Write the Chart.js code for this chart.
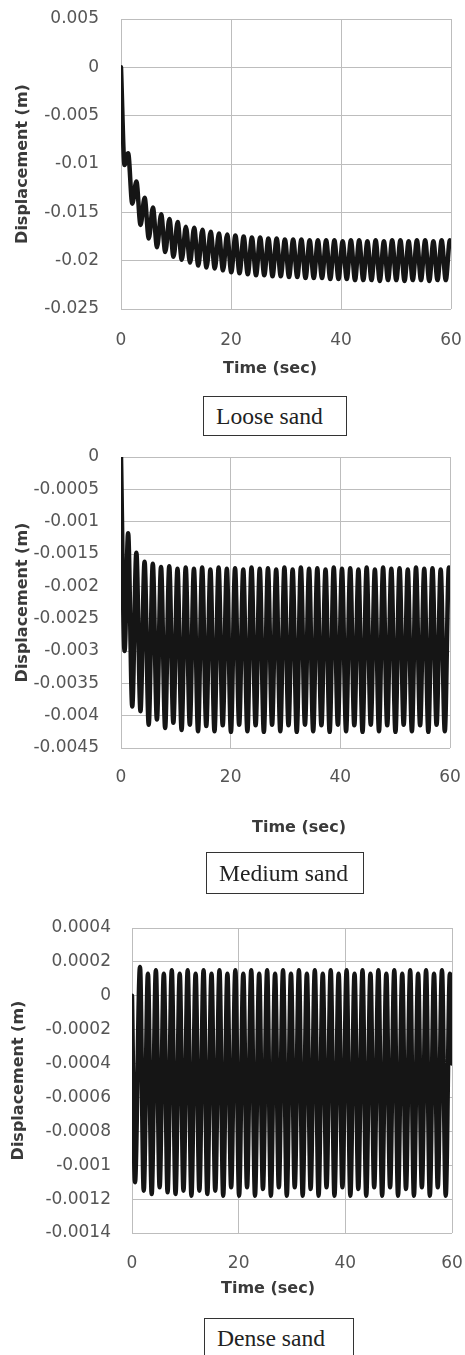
<!DOCTYPE html>
<html>
<head>
<meta charset="utf-8">
<script src="https://cdn.jsdelivr.net/npm/chart.js@4.4.0/dist/chart.umd.min.js"></script>
<style>
  body { margin: 0; width: 465px; height: 1355px; overflow: hidden; background: #fff; position: relative; }
  canvas { position: absolute; left: 0; }
  .tag { position: absolute; box-sizing: border-box; border: 1px solid #333; font-family: 'Liberation Serif', serif;
         font-size: 23.6px; color: #222; padding-left: 12px; white-space: nowrap; }
</style>
</head>
<body>
<canvas id="loose" width="465" height="390" style="top:0px"></canvas>
<canvas id="medium" width="465" height="400" style="top:440px"></canvas>
<canvas id="dense" width="465" height="415" style="top:890px"></canvas>
<div class="tag" style="left:203px;top:396px;width:144px;height:40px;line-height:38px">Loose sand</div>
<div class="tag" style="left:206px;top:852px;width:158px;height:42px;line-height:40px">Medium sand</div>
<div class="tag" style="left:204px;top:1318px;width:150px;height:40px;line-height:38px">Dense sand</div>
<script>
// time axis
const timeTicks = [0, 20, 40, 60]

// loose / medium sand: times of the extremes (sec)
const peakTimesA = [1.3, 2.8, 4.3, 5.8, 7.3, 8.8, 10.3, 11.8, 13.3, 14.8, 16.3, 17.8, 19.3, 20.8, 22.3, 23.8, 25.3, 26.8, 28.3, 29.8,
  31.3, 32.8, 34.3, 35.8, 37.3, 38.8, 40.3, 41.8, 43.3, 44.8, 46.3, 47.8, 49.3, 50.8, 52.3, 53.8, 55.3, 56.8, 58.3, 59.8]
const troughTimesA = [0.65, 2.05, 3.55, 5.05, 6.55, 8.05, 9.55, 11.05, 12.55, 14.05, 15.55, 17.05, 18.55, 20.05, 21.55, 23.05, 24.55, 26.05, 27.55, 29.05,
  30.55, 32.05, 33.55, 35.05, 36.55, 38.05, 39.55, 41.05, 42.55, 44.05, 45.55, 47.05, 48.55, 50.05, 51.55, 53.05, 54.55, 56.05, 57.55, 59.05]

// dense sand: times of the extremes (sec)
const peakTimesB = [1.5, 2.99, 4.48, 5.97, 7.46, 8.95, 10.44, 11.93, 13.42, 14.91, 16.4, 17.89, 19.38, 20.87, 22.36, 23.85, 25.34, 26.83, 28.32, 29.81,
  31.3, 32.79, 34.28, 35.77, 37.26, 38.75, 40.24, 41.73, 43.22, 44.71, 46.2, 47.69, 49.18, 50.67, 52.16, 53.65, 55.14, 56.63, 58.12, 59.61]
const troughTimesB = [0.56, 2.2, 3.69, 5.18, 6.67, 8.16, 9.65, 11.14, 12.63, 14.12, 15.61, 17.1, 18.59, 20.08, 21.57, 23.06, 24.55, 26.04, 27.53, 29.02,
  30.51, 32, 33.49, 34.98, 36.47, 37.96, 39.45, 40.94, 42.43, 43.92, 45.41, 46.9, 48.39, 49.88, 51.37, 52.86, 54.35, 55.84, 57.33, 58.82]

// Loose sand displacement (m)
const loosePeaks = [-0.0089, -0.0118, -0.0135, -0.0145, -0.0152, -0.0157, -0.0160, -0.0165, -0.0166, -0.0168,
  -0.0170, -0.0172, -0.0173, -0.0174, -0.0175, -0.0176, -0.0176, -0.0177, -0.0177, -0.0178,
  -0.0178, -0.0178, -0.0179, -0.0179, -0.0179, -0.0179, -0.0180, -0.0179, -0.0179, -0.0180,
  -0.0179, -0.0180, -0.0179, -0.0179, -0.0180, -0.0179, -0.0179, -0.0180, -0.0179, -0.0179]
const looseTroughs = [-0.0101, -0.0141, -0.0163, -0.0177, -0.0186, -0.0191, -0.0196, -0.0199, -0.0202, -0.0205,
  -0.0207, -0.0208, -0.0210, -0.0212, -0.0213, -0.0214, -0.0215, -0.0215, -0.0216, -0.0216,
  -0.0217, -0.0217, -0.0218, -0.0218, -0.0218, -0.0219, -0.0219, -0.0219, -0.0220, -0.0220,
  -0.0220, -0.0221, -0.0220, -0.0220, -0.0221, -0.0220, -0.0220, -0.0221, -0.0220, -0.0220]
const looseEnds = [[0, 0], [60, -0.0181]]
const looseYTicks = [0.005, 0, -0.005, -0.01, -0.015, -0.02, -0.025]

// Medium sand displacement (m)
const mediumPeaks = [-0.00118, -0.00148, -0.00162, -0.00165, -0.00170, -0.00169, -0.00173, -0.00171, -0.00173, -0.00171,
  -0.00174, -0.00171, -0.00173, -0.00172, -0.00174, -0.00171, -0.00173, -0.00172, -0.00174, -0.00171,
  -0.00174, -0.00171, -0.00173, -0.00172, -0.00174, -0.00171, -0.00173, -0.00172, -0.00174, -0.00171,
  -0.00174, -0.00171, -0.00173, -0.00172, -0.00174, -0.00171, -0.00173, -0.00172, -0.00174, -0.00171]
const mediumTroughs = [-0.00300, -0.00386, -0.00393, -0.00414, -0.00406, -0.00419, -0.00411, -0.00422, -0.00414, -0.00424,
  -0.00416, -0.00424, -0.00415, -0.00425, -0.00414, -0.00424, -0.00415, -0.00425, -0.00414, -0.00424,
  -0.00415, -0.00425, -0.00414, -0.00424, -0.00415, -0.00425, -0.00414, -0.00424, -0.00415, -0.00425,
  -0.00414, -0.00424, -0.00415, -0.00425, -0.00414, -0.00424, -0.00415, -0.00425, -0.00414, -0.00424]
const mediumEnds = [[0, 0], [60, -0.0021]]
const mediumYTicks = [0, -0.0005, -0.001, -0.0015, -0.002, -0.0025, -0.003, -0.0035, -0.004, -0.0045]

// Dense sand displacement (m)
const densePeaks = [0.00017, 0.00013, 0.00015, 0.00013, 0.00015, 0.00013, 0.00015, 0.00013, 0.00015, 0.00013,
  0.00015, 0.00013, 0.00015, 0.00013, 0.00015, 0.00013, 0.00015, 0.00013, 0.00015, 0.00013,
  0.00015, 0.00013, 0.00015, 0.00013, 0.00015, 0.00013, 0.00015, 0.00013, 0.00015, 0.00013,
  0.00015, 0.00013, 0.00015, 0.00013, 0.00015, 0.00013, 0.00015, 0.00013, 0.00015, 0.00013]
const denseTroughs = [-0.00110, -0.00115, -0.00117, -0.00113, -0.00116, -0.00117, -0.00115, -0.00118, -0.00115, -0.00117,
  -0.00115, -0.00118, -0.00113, -0.00118, -0.00113, -0.00118, -0.00114, -0.00118, -0.00113, -0.00118,
  -0.00113, -0.00118, -0.00114, -0.00118, -0.00113, -0.00118, -0.00113, -0.00118, -0.00114, -0.00118,
  -0.00113, -0.00118, -0.00113, -0.00118, -0.00114, -0.00118, -0.00113, -0.00118, -0.00113, -0.00118]
const denseEnds = [[0, 0], [60, -0.0004]]
const denseYTicks = [0.0004, 0.0002, 0, -0.0002, -0.0004, -0.0006, -0.0008, -0.001, -0.0012, -0.0014]

Chart.defaults.font.family = "'DejaVu Sans', sans-serif"

// merge extremes into one time-ordered series
function buildSeries(ends, peakT, peaks, troughT, troughs) {
  const pts = ends.map(([x, y]) => ({ x, y }))
  peakT.forEach((t, i) => pts.push({ x: t, y: peaks[i] }))
  troughT.forEach((t, i) => pts.push({ x: t, y: troughs[i] }))
  return pts.sort((a, b) => a.x - b.x)
}

// x-axis title is placed off-centre in the original, so draw it ourselves
const xTitle = {
  id: 'xTitle',
  afterDraw(chart, args, opts) {
    const ctx = chart.ctx
    ctx.save()
    ctx.font = "bold 16px 'DejaVu Sans'"
    ctx.fillStyle = '#3a3a3a'
    ctx.textAlign = 'center'
    ctx.textBaseline = 'middle'
    ctx.fillText(opts.text, opts.x, opts.y)
    ctx.restore()
  }
}

function makeChart(id, points, yTicks, box) {
  const gridStyle = { color: '#bdbdbd', lineWidth: 1, drawTicks: false }
  return new Chart(document.getElementById(id), {
    type: 'line',
    data: {
      datasets: [{
        data: points,
        borderColor: '#151515',
        borderWidth: 4.5,
        borderJoinStyle: 'round',
        borderCapStyle: 'round',
        pointRadius: 0,
        cubicInterpolationMode: 'monotone',
        fill: false
      }]
    },
    options: {
      responsive: false,
      animation: false,
      events: [],
      layout: { padding: { top: box.top, right: box.right, left: 0, bottom: 0 } },
      plugins: {
        legend: { display: false },
        tooltip: { enabled: false },
        xTitle: { text: 'Time (sec)', x: box.titleX, y: box.titleY }
      },
      scales: {
        x: {
          type: 'linear', min: 0, max: 60,
          afterBuildTicks: s => { s.ticks = timeTicks.map(v => ({ value: v })) },
          afterFit: s => { s.height = box.xHeight; s.paddingLeft = 0; s.paddingRight = 0 },
          grid: gridStyle,
          border: { display: false },
          ticks: { padding: box.xPad, color: '#555', font: { size: 17 }, maxRotation: 0, autoSkip: false }
        },
        y: {
          min: yTicks[yTicks.length - 1], max: yTicks[0],
          afterBuildTicks: s => { s.ticks = yTicks.slice().reverse().map(v => ({ value: v })) },
          afterFit: s => { s.width = box.yWidth; s.paddingTop = 0; s.paddingBottom = 0 },
          grid: gridStyle,
          border: { display: false },
          ticks: { padding: box.yPad, color: '#555', font: { size: 17 }, autoSkip: false, callback: v => String(v) },
          title: {
            display: true, text: 'Displacement (m)', color: '#3a3a3a',
            font: { size: 16, weight: 'bold' }, padding: { top: box.yTitlePad, bottom: 0 }
          }
        }
      }
    },
    plugins: [xTitle]
  })
}

makeChart('loose', buildSeries(looseEnds, peakTimesA, loosePeaks, troughTimesA, looseTroughs), looseYTicks,
  { top: 19, right: 14, xHeight: 81, yWidth: 121, xPad: 21, yPad: 22, yTitlePad: 13.4, titleX: 270, titleY: 369 })
makeChart('medium', buildSeries(mediumEnds, peakTimesA, mediumPeaks, troughTimesA, mediumTroughs), mediumYTicks,
  { top: 17, right: 15, xHeight: 92, yWidth: 121, xPad: 19, yPad: 22, yTitlePad: 13.4, titleX: 299, titleY: 388 })
makeChart('dense', buildSeries(denseEnds, peakTimesB, densePeaks, troughTimesB, denseTroughs), denseYTicks,
  { top: 38, right: 13, xHeight: 72, yWidth: 132, xPad: 20, yPad: 21, yTitlePad: 9.4, titleX: 268, titleY: 399 })
</script>
</body>
</html>
